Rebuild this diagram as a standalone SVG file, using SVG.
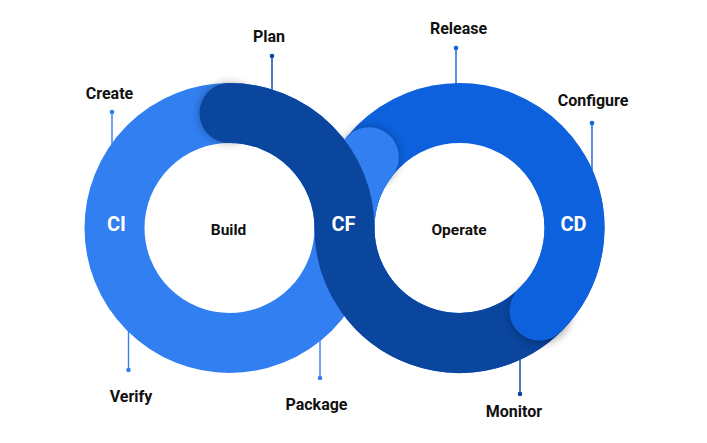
<svg xmlns="http://www.w3.org/2000/svg" width="707" height="443" viewBox="0 0 707 443">
  <defs>
    <filter id="soft" x="-50%" y="-50%" width="200%" height="200%">
      <feGaussianBlur stdDeviation="4"/>
    </filter>
  </defs>
  <style>
    .band { fill: none; stroke-width: 60; }
    .light { stroke: #317ff0; }
    .mid { stroke: #0d61dd; }
    .dark { stroke: #0a459e; }
    .shadow { fill: #000; opacity: 0.32; filter: url(#soft); }
    .lbl { font-family: Roboto, "Liberation Sans", sans-serif; font-weight: 700; font-size: 16px; fill: #111; text-anchor: middle; }
    .inner { font-size: 15.5px; }
    .ring { font-family: Roboto, "Liberation Sans", sans-serif; font-weight: 700; font-size: 20px; fill: #fff; text-anchor: middle; }
    .lead { stroke-width: 1.4; fill: none; }
  </style>
  <rect width="707" height="443" fill="#fff"/>

  <g id="connectors">
    <g class="lead">
      <line x1="112" y1="112" x2="112" y2="152" stroke="#317ff0"/>
      <line x1="128.5" y1="370" x2="128.5" y2="330" stroke="#317ff0"/>
      <line x1="320" y1="378" x2="320" y2="338" stroke="#317ff0"/>
      <line x1="272" y1="56" x2="272" y2="94" stroke="#0a459e"/>
      <line x1="456" y1="48" x2="456" y2="90" stroke="#0d61dd"/>
      <line x1="592" y1="123" x2="592" y2="172" stroke="#0d61dd"/>
      <line x1="520" y1="394" x2="520" y2="352" stroke="#0a459e"/>
    </g>
    <circle cx="112" cy="112" r="2.3" fill="#317ff0"/>
    <circle cx="128.5" cy="370" r="2.3" fill="#317ff0"/>
    <circle cx="320" cy="378" r="2.3" fill="#317ff0"/>
    <circle cx="272" cy="56" r="2.3" fill="#0a459e"/>
    <circle cx="456" cy="48" r="2.3" fill="#0d61dd"/>
    <circle cx="592" cy="123" r="2.3" fill="#0d61dd"/>
    <circle cx="520" cy="394" r="2.3" fill="#0a459e"/>
  </g>

  <g id="loop">
    <circle class="band mid" cx="459.5" cy="228" r="115"/>
    <circle class="band light" cx="229.5" cy="228" r="115"/>
    <circle class="shadow" cx="368.9" cy="157.2" r="30"/>
    <path class="band light" stroke-linecap="round" d="M 344.5 228 A 115 115 0 0 1 368.9 157.2"/>
    <circle class="shadow" cx="229.5" cy="113" r="30"/>
    <path class="band dark" stroke-linecap="round" d="M 229.5 113 A 115 115 0 0 1 344.5 228 A 115 115 0 0 0 547.6 301.9"/>
    <circle class="shadow" cx="541" cy="313" r="30"/>
    <path class="band mid" stroke-linecap="round" d="M 539.4 310.7 A 115 115 0 0 0 559.1 170.5"/>
  </g>

  <g id="node-ci"><text class="ring" x="116.5" y="231">CI</text></g>
  <g id="node-cf"><text class="ring" x="343.5" y="231">CF</text></g>
  <g id="node-cd"><text class="ring" x="573.5" y="231">CD</text></g>
  <g id="node-build"><text class="lbl inner" x="228.5" y="235">Build</text></g>
  <g id="node-operate"><text class="lbl inner" x="459" y="235">Operate</text></g>
  <g id="node-create"><text class="lbl" x="109.5" y="98.5">Create</text></g>
  <g id="node-plan"><text class="lbl" x="269" y="42">Plan</text></g>
  <g id="node-release"><text class="lbl" x="458.5" y="34">Release</text></g>
  <g id="node-configure"><text class="lbl" x="593" y="106">Configure</text></g>
  <g id="node-verify"><text class="lbl" x="131" y="402">Verify</text></g>
  <g id="node-package"><text class="lbl" x="316.5" y="410">Package</text></g>
  <g id="node-monitor"><text class="lbl" x="514" y="417">Monitor</text></g>
</svg>
